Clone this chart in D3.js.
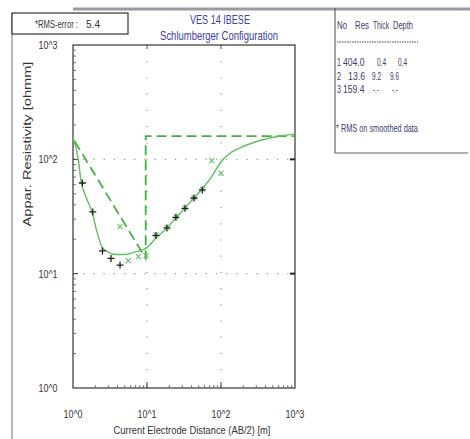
<!DOCTYPE html>
<html>
<head>
<meta charset="utf-8">
<script src="https://cdn.jsdelivr.net/npm/d3@7"></script>
<style>
  body { margin: 0; background: #fff; }
  svg { display: block; }
  text { font-family: "Liberation Sans", Arial, sans-serif; }
</style>
</head>
<body>
<svg id="chart" width="470" height="439"></svg>
<script>
// observed apparent resistivity (AB/2 [m], rho [ohmm])
const obsAB = [1.34, 1.85, 2.5, 3.26, 4.32, 13.2, 18.6, 24.6, 32.6, 43.2, 55.9];
const obsRho = [62.1, 34.7, 15.8, 13.6, 11.9, 21.6, 25.1, 31.1, 37.3, 45.9, 54.0];

// smoothed data (x markers)
const smAB = [4.32, 5.59, 7.67, 9.69, 13.2, 18.6, 24.6, 32.6, 43.2, 55.9, 74.9, 100];
const smRho = [25.8, 13.0, 14.1, 14.4, 21.8, 25.4, 31.4, 37.6, 46.2, 54.5, 97.5, 75.6];

// calculated curve
const curveAB = [1.0, 1.17, 1.29, 1.5, 1.81, 2.11, 2.47, 2.97, 3.7, 5.04, 6.89, 9.91, 13.2, 18.6, 24.6, 32.6, 43.2, 54.8, 74.9, 96.9, 132, 181, 337, 627, 1000];
const curveRho = [155, 103, 63.8, 46.9, 34.7, 23.2, 17.1, 15.5, 14.7, 14.7, 15.5, 16.8, 20.5, 25.1, 30.7, 37.6, 45.9, 54.8, 70.6, 92.4, 113, 126, 146, 160, 166];

// layer model
const layerNo = [1, 2, 3];
const layerRes = [404.0, 13.6, 159.4];
const layerThick = [0.4, 9.2, null];
const layerDepth = [0.4, 9.6, null];

const xTicks = [1, 10, 100, 1000];
const yTicks = [1, 10, 100, 1000];
const tickLabels = ["10^0", "10^1", "10^2", "10^3"];

const svg = d3.select("#chart");
const pLeft = 73, pRight = 295, pTop = 45, pBottom = 388;

const x = d3.scaleLog().domain([1, 1000]).range([pLeft, pRight]);
const y = d3.scaleLog().domain([1, 1000]).range([pBottom, pTop]);

// narrow text: draw at the origin, measure, then squeeze to width w
function label(parent, str, tx, ty, w, size, color, anchor, rot) {
    let t = parent.append("text").attr("font-size", size).attr("fill", color)
        .attr("text-anchor", anchor || "start").text(str);
    let len = t.node().getComputedTextLength();
    let sx = w / len;
    t.attr("transform", `translate(${tx},${ty})` + (rot ? ` rotate(${rot})` : "") + ` scale(${sx},1)`);
    return t;
}

// window chrome / frame
svg.append("line").attr("x1", 73).attr("x2", 470).attr("y1", 9).attr("y2", 9)
    .attr("stroke", "#6a7080").attr("stroke-width", 3).attr("opacity", 0.7);
svg.append("line").attr("x1", 12).attr("x2", 12).attr("y1", 13).attr("y2", 439)
    .attr("stroke", "#888").attr("stroke-width", 1.2);

// clip
svg.append("clipPath").attr("id", "clip")
    .append("rect").attr("x", pLeft).attr("y", pTop).attr("width", pRight - pLeft).attr("height", pBottom - pTop);

// grid
[10, 100].forEach((v) => {
    svg.append("line").attr("x1", x(v)).attr("x2", x(v)).attr("y1", pTop).attr("y2", pBottom)
        .attr("stroke", "#999").attr("stroke-width", 1.2).attr("stroke-dasharray", "1.2,15");
    svg.append("line").attr("x1", pLeft).attr("x2", pRight).attr("y1", y(v)).attr("y2", y(v))
        .attr("stroke", "#999").attr("stroke-width", 1.2).attr("stroke-dasharray", "1.2,9");
});

// frame
svg.append("rect").attr("x", pLeft).attr("y", pTop).attr("width", pRight - pLeft).attr("height", pBottom - pTop)
    .attr("fill", "none").attr("stroke", "#333").attr("stroke-width", 1.2);

// minor ticks (inside) on left and bottom
let minor = [];
for (let d = 1; d < 1000; d *= 10) for (let k = 2; k <= 9; k++) minor.push(d * k);
minor.forEach((v) => {
    svg.append("line").attr("x1", pLeft).attr("x2", pLeft + 3).attr("y1", y(v)).attr("y2", y(v))
        .attr("stroke", "#555").attr("stroke-width", 0.8);
    svg.append("line").attr("x1", x(v)).attr("x2", x(v)).attr("y1", pBottom).attr("y2", pBottom - 3)
        .attr("stroke", "#555").attr("stroke-width", 0.8);
});
[10, 100].forEach((v) => {
    svg.append("line").attr("x1", pLeft).attr("x2", pLeft + 5).attr("y1", y(v)).attr("y2", y(v)).attr("stroke", "#333");
    svg.append("line").attr("x1", pRight).attr("x2", pRight - 5).attr("y1", y(v)).attr("y2", y(v)).attr("stroke", "#222").attr("stroke-width", 2);
    svg.append("line").attr("x1", x(v)).attr("x2", x(v)).attr("y1", pBottom).attr("y2", pBottom - 6).attr("stroke", "#333");
    svg.append("line").attr("x1", x(v)).attr("x2", x(v)).attr("y1", pTop).attr("y2", pTop + 4).attr("stroke", "#555");
});

// tick labels
xTicks.forEach((d, i) => label(svg, tickLabels[i], x(d), 418, 19, 11.5, "#333", "middle"));
yTicks.forEach((d, i) => label(svg, tickLabels[i], 48, y(d) + 4, 19, 11.5, "#333", "middle"));

// axis titles
label(svg, "Current Electrode Distance (AB/2) [m]", 192, 434, 157, 11.5, "#333", "middle");
label(svg, "Appar. Resistivity [ohmm]", 31, 144, 165, 11.5, "#333", "middle", -90);

// title
label(svg, "VES 14 IBESE", 220, 24, 60, 12.5, "#4040a8", "middle");
label(svg, "Schlumberger Configuration", 219, 40, 118, 12.5, "#4040a8", "middle");

// RMS box
svg.append("rect").attr("x", 12).attr("y", 13).attr("width", 116).attr("height", 21)
    .attr("fill", "#fff").attr("stroke", "#333").attr("stroke-width", 1.2);
label(svg, "*RMS-error :", 35, 28, 43, 11.5, "#333");
label(svg, "5.4", 86, 28, 14, 11.5, "#333");

const plot = svg.append("g").attr("clip-path", "url(#clip)");

// layer model (dashed)
let model = [];
model.push([layerDepth[0], layerRes[0]]);
model.push([layerDepth[1], layerRes[1]]);
model.push([layerDepth[1], layerRes[2]]);
model.push([1000, layerRes[2]]);
plot.append("path").datum(model)
    .attr("d", d3.line().x((d) => x(d[0])).y((d) => y(d[1])))
    .attr("fill", "none").attr("stroke", "#45b045").attr("stroke-width", 1.8).attr("stroke-dasharray", "10,5");

// calculated curve
plot.append("path").datum(curveAB.map((d, i) => [d, curveRho[i]]))
    .attr("d", d3.line().curve(d3.curveMonotoneX).x((d) => x(d[0])).y((d) => y(d[1])))
    .attr("fill", "none").attr("stroke", "#5cc05c").attr("stroke-width", 1.4);

// smoothed x markers
plot.selectAll(".sm").data(smAB.map((d, i) => [d, smRho[i]])).join("path")
    .attr("d", (d) => {
        let cx = x(d[0]), cy = y(d[1]), s = 2.5;
        return `M${cx - s},${cy - s}L${cx + s},${cy + s}M${cx + s},${cy - s}L${cx - s},${cy + s}`;
    })
    .attr("stroke", "#66bb66").attr("stroke-width", 1.1);

// observed + markers
plot.selectAll(".ob").data(obsAB.map((d, i) => [d, obsRho[i]])).join("path")
    .attr("d", (d) => {
        let cx = x(d[0]), cy = y(d[1]), s = 3.5;
        return `M${cx - s},${cy}L${cx + s},${cy}M${cx},${cy - s}L${cx},${cy + s}`;
    })
    .attr("stroke", "#222").attr("stroke-width", 1.3);

// right panel
const panel = svg.append("g");
panel.append("path").attr("d", "M335,8L335,153L468,153").attr("fill", "none")
    .attr("stroke", "#666").attr("stroke-width", 1.2);
const tc = "#3b3b70", fs = 11;
const head = [["No", 337, 10], ["Res", 355, 14], ["Thick", 373, 16], ["Depth", 393, 20]];
head.forEach(([h, hx, hw]) => label(panel, h, hx, 29, hw, fs, tc));
panel.append("line").attr("x1", 337).attr("x2", 418).attr("y1", 42).attr("y2", 42)
    .attr("stroke", tc).attr("stroke-width", 1).attr("stroke-dasharray", "1.5,1");
const resX = [343, 348, 343], thickX = [377, 372, 373], depthX = [398, 390, 392];
layerNo.forEach((n, i) => {
    let yy = 66 + i * 13.5;
    label(panel, String(n), 337, yy, 4, fs, tc);
    let r = layerRes[i].toFixed(1);
    label(panel, r, resX[i], yy, r.length * 4.3, fs, tc);
    let t = layerThick[i] === null ? "-.-" : layerThick[i].toFixed(1);
    label(panel, t, thickX[i], yy, t === "-.-" ? 6 : 9, fs, tc);
    let dp = layerDepth[i] === null ? "-.-" : layerDepth[i].toFixed(1);
    label(panel, dp, depthX[i], yy, dp === "-.-" ? 6 : 9, fs, tc);
});
label(panel, "* RMS on smoothed data", 336, 132, 82, fs, tc);
</script>
</body>
</html>
